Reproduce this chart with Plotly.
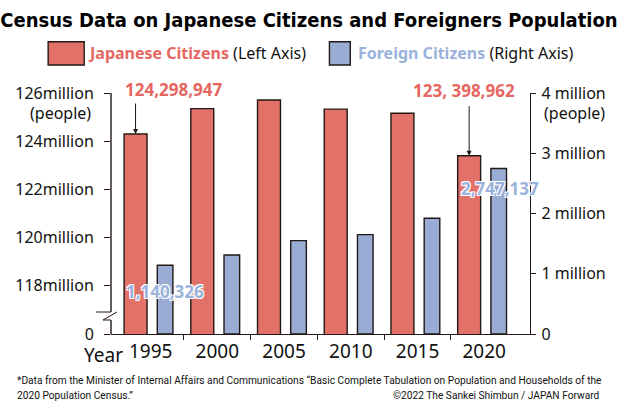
import plotly.graph_objects as go

# census years and populations (people)
years = [1995, 2000, 2005, 2010, 2015, 2020]
year_labels = ["1995", "2000", "2005", "2010", "2015", "2020"]
japanese = [124298947, 125350000, 125710000, 125330000, 125160000, 123398962]
foreign = [1140326, 1310000, 1550000, 1650000, 1920000, 2747137]

left_tick_vals = [116e6, 118e6, 120e6, 122e6, 124e6, 126e6]
left_tick_text = ["0", "118million", "120million", "122million", "124million", "126million"]
right_tick_vals = [0, 1e6, 2e6, 3e6, 4e6]
right_tick_text = ["0", "1 million", "2 million", "3 million", "4 million"]

RED = "#E2716A"
BLUE = "#99ADD4"
RED_TXT = "#E6675F"
BLUE_TXT = "#9AB2DC"
INK = "#231815"

W, H = 618, 405
L, R, T, B = 111, 85, 93, 71
PW, PH = W - L - R, H - T - B


def px(x):  # pixel x -> paper
    return (x - L) / PW


def py(y):  # pixel y -> paper
    return (H - B - y) / PH


fig = go.Figure()
fig.add_trace(go.Bar(x=years, y=japanese, width=1.72, offset=-1.99, marker=dict(color=RED, line=dict(color=INK, width=1.4)),
                     name="Japanese Citizens", yaxis="y"))
fig.add_trace(go.Bar(x=years, y=foreign, width=1.17, offset=0.5, marker=dict(color=BLUE, line=dict(color=INK, width=1.4)),
                     name="Foreign Citizens", yaxis="y2"))

tick_font = dict(family="Noto Sans", size=16, color="#111")

fig.update_layout(
    width=W, height=H,
    margin=dict(l=L, r=R, t=T, b=B),
    paper_bgcolor="white", plot_bgcolor="white",
    barmode="overlay", showlegend=False,
    title=dict(text="<b>Census Data on Japanese Citizens and Foreigners Population</b>",
               x=0.5, xanchor="center", y=1 - 20 / H, yanchor="middle",
               font=dict(family="DejaVu Sans Condensed, Roboto", size=20, color="#000")),
    xaxis=dict(range=[1992.03, 2023.43], tickvals=years, ticktext=year_labels, ticks="",
               showline=True, linecolor=INK, linewidth=1.4, showgrid=False, zeroline=False,
               tickfont=dict(family="Noto Sans", size=19, color="#111"),
               minor=dict(tickvals=[1997.5, 2002.5, 2007.5, 2012.5, 2017.5], ticks="outside",
                          ticklen=5, tickwidth=1.4, tickcolor=INK, showgrid=False)),
    yaxis=dict(range=[116e6, 126e6], tickvals=left_tick_vals, ticktext=left_tick_text,
               ticks="outside", ticklen=6, tickwidth=1.2, tickcolor=INK, ticklabelstandoff=7,
               showline=False, showgrid=False, zeroline=False, tickfont=tick_font),
    yaxis2=dict(range=[0, 4e6], tickvals=right_tick_vals, ticktext=right_tick_text, overlaying="y",
                side="right", ticks="outside", ticklen=5, tickwidth=1.2, tickcolor=INK, ticklabelstandoff=2,
                showline=True, linecolor=INK, linewidth=1.4, showgrid=False, zeroline=False,
                tickfont=tick_font),
)

# broken left axis
shape_line = dict(color=INK, width=1.4)
fig.add_shape(type="line", xref="paper", yref="paper", x0=0, x1=0, y0=py(312), y1=1, line=shape_line)
fig.add_shape(type="line", xref="paper", yref="paper", x0=0, x1=0, y0=0, y1=py(320), line=shape_line)
fig.add_shape(type="line", xref="paper", yref="paper", x0=px(96), x1=px(111), y0=py(312), y1=py(312), line=dict(color=INK, width=1))
fig.add_shape(type="line", xref="paper", yref="paper", x0=px(103), x1=px(117), y0=py(320), y1=py(312), line=dict(color=INK, width=1))
fig.add_shape(type="line", xref="paper", yref="paper", x0=px(103), x1=px(111), y0=py(320), y1=py(320), line=dict(color=INK, width=1))

# legend
fig.add_shape(type="rect", xref="paper", yref="paper", x0=px(47.7), x1=px(84), y0=py(65), y1=py(41.7),
              fillcolor=RED, line=dict(color=INK, width=1.4))
fig.add_shape(type="rect", xref="paper", yref="paper", x0=px(331), x1=px(352), y0=py(65), y1=py(41.7),
              fillcolor=BLUE, line=dict(color=INK, width=1.4))

legend_font = dict(family="Noto Sans", size=16, color="#111")
fig.add_annotation(xref="paper", yref="paper", x=px(86), y=py(53), xanchor="left", yanchor="middle", showarrow=False,
                   text=f"<span style='color:{RED_TXT}'><b>Japanese Citizens</b></span> (Left Axis)", font=legend_font)
fig.add_annotation(xref="paper", yref="paper", x=px(358), y=py(53), xanchor="left", yanchor="middle", showarrow=False,
                   text=f"<span style='color:{BLUE_TXT}'><b>Foreign Citizens</b></span> (Right Axis)", font=legend_font)

# axis unit labels
fig.add_annotation(xref="paper", yref="paper", x=px(93), y=py(112.5), xanchor="right", yanchor="middle",
                   showarrow=False, text="(people)", font=tick_font)
fig.add_annotation(xref="paper", yref="paper", x=px(545), y=py(112.5), xanchor="left", yanchor="middle",
                   showarrow=False, text="(people)", font=tick_font)
fig.add_annotation(xref="paper", yref="paper", x=px(103), y=py(355), xanchor="center", yanchor="middle",
                   showarrow=False, text="Year", font=dict(family="Noto Sans", size=19, color="#111"))

# value callouts
value_font = dict(family="Noto Sans", size=17, color=RED_TXT)
fig.add_annotation(x=1996.7, y=py(89.7), xref="x", yref="paper", showarrow=False, yanchor="middle",
                   text="<b>124,298,947</b>", font=value_font)
fig.add_annotation(x=years[0] - 1.13, y=japanese[0], xref="x", yref="y", text="", showarrow=True,
                   ax=0, ay=-32, arrowhead=2, arrowsize=1, arrowwidth=1, arrowcolor=INK)
fig.add_annotation(x=2018.45, y=py(90), xref="x", yref="paper", showarrow=False, yanchor="middle",
                   text="<b>123, 398,962</b>", font=value_font)
fig.add_annotation(x=years[-1] - 1.13, y=japanese[-1], xref="x", yref="y", text="", showarrow=True,
                   ax=0, ay=-51, arrowhead=2, arrowsize=1, arrowwidth=1, arrowcolor=INK)

halo = "1px 1px 0 #fff, -1px -1px 0 #fff, 1px -1px 0 #fff, -1px 1px 0 #fff"
blue_font = dict(family="Noto Sans", size=17, color=BLUE_TXT, shadow=halo)
fig.add_annotation(x=1996.07, y=0.705e6, xref="x", yref="y2", showarrow=False, yanchor="middle",
                   text="<b>1,140,326</b>", font=blue_font)
fig.add_annotation(x=2021.2, y=2.417e6, xref="x", yref="y2", showarrow=False, yanchor="middle",
                   text="<b>2,747,137</b>", font=blue_font)

# footnote
note_font = dict(family="Roboto", size=10.2, color="#111")
fig.add_annotation(xref="paper", yref="paper", x=px(14), y=py(380), xanchor="left", yanchor="middle", showarrow=False,
                   text="*Data from the Minister of Internal Affairs and Communications \u201cBasic Complete Tabulation on Population and Households of the",
                   font=note_font)
fig.add_annotation(xref="paper", yref="paper", x=px(14), y=py(395), xanchor="left", yanchor="middle", showarrow=False,
                   text="2020 Population Census.\u201d", font=note_font)
fig.add_annotation(xref="paper", yref="paper", x=px(606), y=py(395), xanchor="right", yanchor="middle", showarrow=False,
                   text="\u00a92022 The Sankei Shimbun / JAPAN Forward", font=note_font)

# page has a default 8px body margin; drop it so the figure sits at the window origin
fig.write_html("out.html", config={"displayModeBar": False},
               post_script="document.body.style.margin='0px';")
